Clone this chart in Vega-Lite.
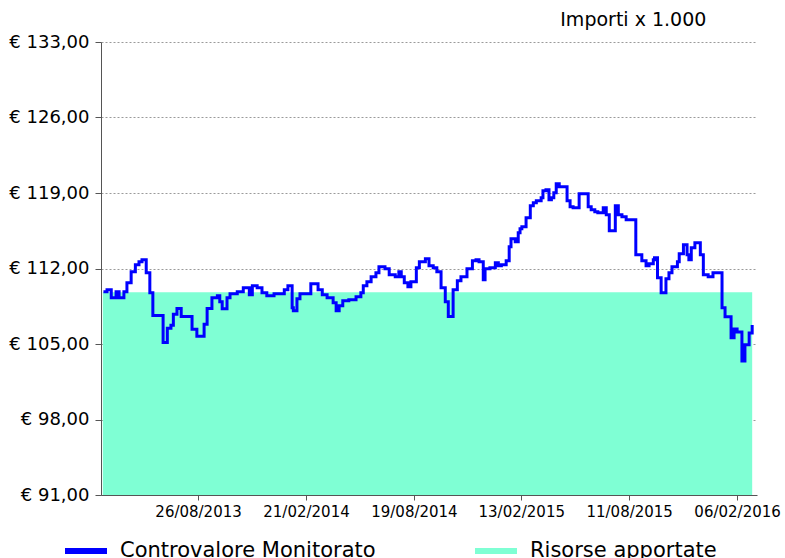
{
  "$schema": "https://vega.github.io/schema/vega-lite/v6.json",
  "autosize": "none",
  "width": 656,
  "height": 453,
  "padding": {"left": 101, "top": 42, "right": 28, "bottom": 63},
  "background": "white",
  "config": {
    "font": "DejaVu Sans",
    "view": {"stroke": null}
  },
  "title": {
    "text": "Importi x 1.000",
    "anchor": "end",
    "dx": -74,
    "offset": 3,
    "fontSize": 19,
    "fontWeight": "normal",
    "color": "black",
    "font": "DejaVu Sans"
  },
  "datasets": {
    "controvalore": [
      {"data": "2013-03-22", "valore": 109.84},
      {"data": "2013-03-28", "valore": 110.02},
      {"data": "2013-04-04", "valore": 109.28},
      {"data": "2013-04-12", "valore": 109.84},
      {"data": "2013-04-17", "valore": 109.28},
      {"data": "2013-04-25", "valore": 109.84},
      {"data": "2013-04-30", "valore": 110.67},
      {"data": "2013-05-07", "valore": 111.69},
      {"data": "2013-05-14", "valore": 112.34},
      {"data": "2013-05-20", "valore": 112.62},
      {"data": "2013-05-25", "valore": 112.81},
      {"data": "2013-06-01", "valore": 111.60},
      {"data": "2013-06-07", "valore": 109.75},
      {"data": "2013-06-12", "valore": 107.65},
      {"data": "2013-06-29", "valore": 105.15},
      {"data": "2013-07-06", "valore": 106.45},
      {"data": "2013-07-12", "valore": 106.73},
      {"data": "2013-07-16", "valore": 107.75},
      {"data": "2013-07-22", "valore": 108.30},
      {"data": "2013-07-29", "valore": 107.56},
      {"data": "2013-08-16", "valore": 106.36},
      {"data": "2013-08-24", "valore": 105.71},
      {"data": "2013-09-05", "valore": 106.82},
      {"data": "2013-09-10", "valore": 108.30},
      {"data": "2013-09-18", "valore": 109.28},
      {"data": "2013-09-27", "valore": 109.47},
      {"data": "2013-10-01", "valore": 108.91},
      {"data": "2013-10-05", "valore": 108.26},
      {"data": "2013-10-13", "valore": 109.28},
      {"data": "2013-10-18", "valore": 109.65},
      {"data": "2013-10-30", "valore": 109.84},
      {"data": "2013-11-09", "valore": 110.21},
      {"data": "2013-11-19", "valore": 109.56},
      {"data": "2013-11-24", "valore": 110.39},
      {"data": "2013-12-02", "valore": 110.21},
      {"data": "2013-12-10", "valore": 109.75},
      {"data": "2013-12-18", "valore": 109.47},
      {"data": "2013-12-30", "valore": 109.65},
      {"data": "2014-01-16", "valore": 110.02},
      {"data": "2014-01-22", "valore": 110.39},
      {"data": "2014-01-29", "valore": 108.35},
      {"data": "2014-01-31", "valore": 108.08},
      {"data": "2014-02-06", "valore": 109.19},
      {"data": "2014-02-11", "valore": 109.65},
      {"data": "2014-03-01", "valore": 110.58},
      {"data": "2014-03-13", "valore": 110.02},
      {"data": "2014-03-20", "valore": 109.56},
      {"data": "2014-03-28", "valore": 109.28},
      {"data": "2014-04-07", "valore": 108.82},
      {"data": "2014-04-12", "valore": 108.08},
      {"data": "2014-04-17", "valore": 108.54},
      {"data": "2014-04-23", "valore": 109.00},
      {"data": "2014-05-03", "valore": 109.10},
      {"data": "2014-05-15", "valore": 109.37},
      {"data": "2014-05-23", "valore": 109.75},
      {"data": "2014-05-27", "valore": 110.39},
      {"data": "2014-06-02", "valore": 110.77},
      {"data": "2014-06-09", "valore": 111.23},
      {"data": "2014-06-17", "valore": 111.60},
      {"data": "2014-06-22", "valore": 112.16},
      {"data": "2014-07-02", "valore": 111.97},
      {"data": "2014-07-09", "valore": 111.42},
      {"data": "2014-07-19", "valore": 111.23},
      {"data": "2014-07-25", "valore": 111.69},
      {"data": "2014-07-29", "valore": 111.23},
      {"data": "2014-08-03", "valore": 110.67},
      {"data": "2014-08-09", "valore": 110.30},
      {"data": "2014-08-14", "valore": 110.77},
      {"data": "2014-08-23", "valore": 112.06},
      {"data": "2014-08-28", "valore": 112.62},
      {"data": "2014-09-07", "valore": 112.90},
      {"data": "2014-09-13", "valore": 112.25},
      {"data": "2014-09-20", "valore": 112.06},
      {"data": "2014-09-26", "valore": 111.69},
      {"data": "2014-10-03", "valore": 110.21},
      {"data": "2014-10-10", "valore": 108.91},
      {"data": "2014-10-15", "valore": 107.56},
      {"data": "2014-10-23", "valore": 110.02},
      {"data": "2014-10-30", "valore": 110.86},
      {"data": "2014-11-05", "valore": 111.23},
      {"data": "2014-11-15", "valore": 111.97},
      {"data": "2014-11-24", "valore": 112.71},
      {"data": "2014-11-30", "valore": 112.81},
      {"data": "2014-12-05", "valore": 112.62},
      {"data": "2014-12-12", "valore": 110.95},
      {"data": "2014-12-15", "valore": 111.97},
      {"data": "2014-12-23", "valore": 112.06},
      {"data": "2015-01-01", "valore": 112.53},
      {"data": "2015-01-06", "valore": 112.25},
      {"data": "2015-01-11", "valore": 112.34},
      {"data": "2015-01-19", "valore": 112.71},
      {"data": "2015-01-24", "valore": 114.01},
      {"data": "2015-01-27", "valore": 114.76},
      {"data": "2015-02-03", "valore": 114.48},
      {"data": "2015-02-08", "valore": 115.31},
      {"data": "2015-02-11", "valore": 115.68},
      {"data": "2015-02-14", "valore": 115.87},
      {"data": "2015-02-21", "valore": 116.70},
      {"data": "2015-02-28", "valore": 117.81},
      {"data": "2015-03-05", "valore": 118.09},
      {"data": "2015-03-10", "valore": 118.28},
      {"data": "2015-03-18", "valore": 118.56},
      {"data": "2015-03-21", "valore": 119.21},
      {"data": "2015-03-26", "valore": 119.30},
      {"data": "2015-03-31", "valore": 118.37},
      {"data": "2015-04-04", "valore": 118.56},
      {"data": "2015-04-08", "valore": 119.02},
      {"data": "2015-04-12", "valore": 119.86},
      {"data": "2015-04-17", "valore": 119.58},
      {"data": "2015-04-30", "valore": 118.28},
      {"data": "2015-05-05", "valore": 117.72},
      {"data": "2015-05-10", "valore": 117.63},
      {"data": "2015-05-20", "valore": 118.93},
      {"data": "2015-06-04", "valore": 117.72},
      {"data": "2015-06-09", "valore": 117.44},
      {"data": "2015-06-15", "valore": 117.26},
      {"data": "2015-06-20", "valore": 117.16},
      {"data": "2015-06-29", "valore": 117.63},
      {"data": "2015-07-04", "valore": 116.98},
      {"data": "2015-07-09", "valore": 115.49},
      {"data": "2015-07-19", "valore": 117.81},
      {"data": "2015-07-24", "valore": 116.98},
      {"data": "2015-07-30", "valore": 116.79},
      {"data": "2015-08-06", "valore": 116.51},
      {"data": "2015-08-22", "valore": 113.27},
      {"data": "2015-09-01", "valore": 112.71},
      {"data": "2015-09-08", "valore": 112.25},
      {"data": "2015-09-13", "valore": 112.44},
      {"data": "2015-09-20", "valore": 112.81},
      {"data": "2015-09-22", "valore": 112.99},
      {"data": "2015-09-27", "valore": 111.14},
      {"data": "2015-10-03", "valore": 109.75},
      {"data": "2015-10-11", "valore": 111.05},
      {"data": "2015-10-16", "valore": 111.60},
      {"data": "2015-10-21", "valore": 112.16},
      {"data": "2015-10-30", "valore": 112.62},
      {"data": "2015-11-02", "valore": 113.36},
      {"data": "2015-11-09", "valore": 114.20},
      {"data": "2015-11-15", "valore": 113.27},
      {"data": "2015-11-18", "valore": 112.81},
      {"data": "2015-11-22", "valore": 113.92},
      {"data": "2015-11-28", "valore": 114.38},
      {"data": "2015-12-07", "valore": 113.27},
      {"data": "2015-12-12", "valore": 111.42},
      {"data": "2015-12-20", "valore": 111.23},
      {"data": "2015-12-28", "valore": 111.60},
      {"data": "2016-01-12", "valore": 108.35},
      {"data": "2016-01-17", "valore": 107.52},
      {"data": "2016-01-27", "valore": 105.57},
      {"data": "2016-02-01", "valore": 106.40},
      {"data": "2016-02-06", "valore": 106.12},
      {"data": "2016-02-14", "valore": 103.43},
      {"data": "2016-02-19", "valore": 104.92},
      {"data": "2016-02-26", "valore": 106.03},
      {"data": "2016-03-02", "valore": 106.77}
    ],
    "risorse": [
      {"data": "2013-03-21", "valore": 109.8},
      {"data": "2016-03-02", "valore": 109.8}
    ]
  },
  "encoding": {
    "x": {
      "field": "data",
      "type": "temporal",
      "title": null,
      "scale": {
        "type": "utc",
        "domain": [
          {"year": 2013, "month": 3, "date": 18, "utc": true},
          {"year": 2016, "month": 3, "date": 10, "utc": true}
        ]
      },
      "axis": {
        "values": [
          {"year": 2013, "month": 8, "date": 26, "utc": true},
          {"year": 2014, "month": 2, "date": 21, "utc": true},
          {"year": 2014, "month": 8, "date": 19, "utc": true},
          {"year": 2015, "month": 2, "date": 13, "utc": true},
          {"year": 2015, "month": 8, "date": 11, "utc": true},
          {"year": 2016, "month": 2, "date": 6, "utc": true}
        ],
        "labelExpr": "utcFormat(datum.value, '%d/%m/%Y')",
        "labelFontSize": 15,
        "labelColor": "black",
        "labelFont": "DejaVu Sans",
        "labelPadding": 4,
        "tickSize": 5,
        "tickColor": "#555555",
        "domainColor": "#555555",
        "grid": false,
        "labelOverlap": false
      }
    },
    "y": {
      "field": "valore",
      "type": "quantitative",
      "title": null,
      "scale": {"domain": [91, 133], "nice": false, "zero": false},
      "axis": {
        "values": [91, 98, 105, 112, 119, 126, 133],
        "labelExpr": "'€ ' + replace(format(datum.value, '.2f'), '.', ',')",
        "labelFontSize": 18,
        "labelColor": "black",
        "labelFont": "DejaVu Sans",
        "labelPadding": 6,
        "tickSize": 6,
        "tickColor": "#555555",
        "domainColor": "#555555",
        "grid": true,
        "gridColor": "#9a9a9a",
        "gridDash": [2, 2],
        "gridWidth": 1
      }
    }
  },
  "layer": [
    {
      "data": {"name": "risorse"},
      "mark": {"type": "area", "interpolate": "step-after"},
      "encoding": {
        "y2": {"datum": 91},
        "color": {
          "datum": "Risorse apportate",
          "scale": {
            "domain": ["Controvalore Monitorato", "Risorse apportate"],
            "range": ["#0000ff", "#7fffd4"]
          },
          "legend": {
            "title": null,
            "orient": "none",
            "direction": "horizontal",
            "legendX": -36,
            "legendY": 488,
            "symbolType": "M-1,-0.14H1V0.14H-1Z",
            "symbolSize": 1764,
            "symbolStrokeWidth": 0,
            "labelFontSize": 21,
            "labelFont": "DejaVu Sans",
            "labelColor": "black",
            "labelOffset": 13,
            "labelLimit": 500,
            "columnPadding": 99,
            "encode": {
              "symbols": {
                "update": {
                  "fill": {"scale": "color", "field": "value"},
                  "strokeWidth": {"value": 0},
                  "opacity": {"value": 1}
                }
              }
            }
          }
        }
      }
    },
    {
      "data": {"name": "controvalore"},
      "mark": {"type": "line", "interpolate": "step-after", "strokeWidth": 3},
      "encoding": {
        "color": {"datum": "Controvalore Monitorato"}
      }
    }
  ]
}
